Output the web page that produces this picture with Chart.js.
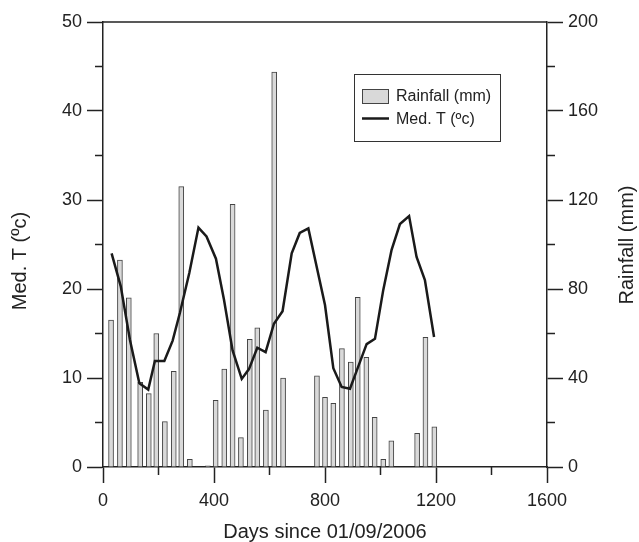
<!DOCTYPE html>
<html>
<head>
<meta charset="utf-8">
<script src="https://cdn.jsdelivr.net/npm/chart.js@4/dist/chart.umd.min.js"></script>
<style>
  html, body { margin: 0; padding: 0; background: #ffffff; }
  #wrap { width: 639px; height: 542px; }
</style>
</head>
<body>
<div id="wrap"><canvas id="c" width="639" height="542"></canvas></div>
<script>
// ---- Data ----
const rainDays = [29, 61, 93, 134, 165, 192, 223, 255, 282, 313, 378, 406, 437, 467, 497, 529, 556, 587, 617, 649,
                  771, 800, 830, 861, 893, 918, 949, 979, 1010, 1039, 1132, 1162, 1194];
const rainValues = [66, 93, 76, 38, 33, 60, 20.4, 43, 126, 3.5, 0.5, 30, 44, 118, 13.2, 57.4, 62.5, 25.6, 177.5, 40,
                    41, 31.3, 28.6, 53.2, 47.2, 76.3, 49.3, 22.3, 3.5, 11.8, 15.1, 58.3, 18.1];
const tempDays = [31, 64, 97, 131, 163, 187, 221, 251, 277, 311, 344, 373, 407, 436, 467, 500, 526, 556, 586, 616,
                  647, 680, 709, 740, 770, 800, 830, 860, 890, 920, 950, 980, 1010, 1040, 1070, 1103, 1130, 1160, 1193];
const tempValues = [24.0, 20.3, 14.3, 9.4, 8.7, 11.9, 11.9, 14.2, 17.3, 21.8, 26.9, 25.9, 23.4, 18.8, 13.1, 9.9, 11.0, 13.4, 12.9, 16.1,
                    17.5, 24.0, 26.3, 26.8, 22.5, 18.2, 11.1, 9.0, 8.8, 11.3, 13.8, 14.4, 19.9, 24.4, 27.3, 28.2, 23.6, 21.0, 14.6];
const xTicksMajor = [0, 400, 800, 1200, 1600];
const xTicksMinor = [200, 600, 1000, 1400];
const tempTicksMinor = [5, 15, 25, 35, 45];
const rainTicksMinor = [20, 60, 100, 140, 180];
const seriesLabels = ['Rainfall (mm)', 'Med. T (\u00bac)'];
const axisTitles = { x: 'Days since 01/09/2006', left: 'Med. T (\u00bac)', right: 'Rainfall (mm)' };

const FONT = '"Liberation Sans", Arial, Helvetica, sans-serif';
const INK = '#222222';

const rainData = rainDays.map((d, i) => ({ x: d, y: rainValues[i] }));
const tempData = tempDays.map((d, i) => ({ x: d, y: tempValues[i] }));

const decorPlugin = {
  id: 'decor',
  afterDraw(chart) {
    const ctx = chart.ctx;
    const xs = chart.scales.x, yl = chart.scales.y, yr = chart.scales.y1;
    const ca = chart.chartArea;
    ctx.save();
    ctx.strokeStyle = INK;
    ctx.lineWidth = 1.5;
    // top frame line
    ctx.beginPath();
    ctx.moveTo(ca.left, ca.top);
    ctx.lineTo(ca.right, ca.top);
    ctx.stroke();
    // minor ticks
    ctx.beginPath();
    xTicksMinor.forEach(v => { const p = xs.getPixelForValue(v); ctx.moveTo(p, ca.bottom); ctx.lineTo(p, ca.bottom + 8); });
    tempTicksMinor.forEach(v => { const p = yl.getPixelForValue(v); ctx.moveTo(ca.left, p); ctx.lineTo(ca.left - 8, p); });
    rainTicksMinor.forEach(v => { const p = yr.getPixelForValue(v); ctx.moveTo(ca.right, p); ctx.lineTo(ca.right + 8, p); });
    ctx.stroke();

    // axis titles
    ctx.fillStyle = INK;
    ctx.font = '20px ' + FONT;
    ctx.textAlign = 'center';
    ctx.textBaseline = 'middle';
    ctx.fillText(axisTitles.x, (ca.left + ca.right) / 2, 532);
    ctx.save();
    ctx.translate(20, 261);
    ctx.rotate(-Math.PI / 2);
    ctx.fillText(axisTitles.left, 0, 0);
    ctx.restore();
    ctx.save();
    ctx.translate(627, 245);
    ctx.rotate(-Math.PI / 2);
    ctx.fillText(axisTitles.right, 0, 0);
    ctx.restore();

    // legend box
    const rainDs = chart.data.datasets[1], tempDs = chart.data.datasets[0];
    ctx.lineWidth = 1;
    ctx.strokeStyle = '#333333';
    ctx.strokeRect(354.5, 74.5, 146, 67);
    ctx.fillStyle = rainDs.backgroundColor;
    ctx.fillRect(362, 89, 27, 15);
    ctx.strokeStyle = rainDs.borderColor;
    ctx.lineWidth = 1;
    ctx.strokeRect(362.5, 89.5, 26, 14);
    ctx.strokeStyle = tempDs.borderColor;
    ctx.lineWidth = 2.5;
    ctx.beginPath();
    ctx.moveTo(362, 118.5);
    ctx.lineTo(389, 118.5);
    ctx.stroke();
    ctx.fillStyle = INK;
    ctx.font = '16px ' + FONT;
    ctx.textAlign = 'left';
    ctx.textBaseline = 'middle';
    ctx.fillText(rainDs.label, 396, 96.5);
    ctx.fillText(tempDs.label, 396, 120);
    ctx.restore();
  }
};

const tickFont = { family: FONT, size: 18 };
const gridOpts = { display: true, offset: false, drawOnChartArea: false, drawTicks: true, tickLength: 16, tickWidth: 1.5, tickColor: INK, color: INK };
const borderOpts = { display: true, color: INK, width: 1.5 };
const plainLabel = v => String(v);

new Chart(document.getElementById('c'), {
  type: 'bar',
  data: {
    datasets: [
      {
        type: 'line',
        label: seriesLabels[1],
        data: tempData,
        yAxisID: 'y',
        xAxisID: 'x',
        borderColor: '#1a1a1a',
        borderWidth: 2.5,
        pointRadius: 0,
        tension: 0,
        fill: false,
        order: 0
      },
      {
        type: 'bar',
        label: seriesLabels[0],
        data: rainData,
        yAxisID: 'y1',
        xAxisID: 'x',
        backgroundColor: '#d9d9d9',
        borderColor: '#444444',
        borderWidth: 1,
        barThickness: 5,
        borderSkipped: 'bottom',
        order: 1
      }
    ]
  },
  options: {
    responsive: false,
    animation: false,
    devicePixelRatio: 1,
    layout: { padding: { top: 22, left: 0, right: 0, bottom: 0 } },
    plugins: { legend: { display: false }, tooltip: { enabled: false }, title: { display: false } },
    scales: {
      x: {
        type: 'linear',
        position: 'bottom',
        min: 0, max: 1600,
        offset: false,
        afterBuildTicks(scale) { scale.ticks = xTicksMajor.map(v => ({ value: v })); },
        ticks: { font: tickFont, color: INK, padding: 7, maxRotation: 0, autoSkip: false, callback: plainLabel },
        grid: gridOpts,
        border: borderOpts,
        afterFit(scale) { scale.height = 75; }
      },
      y: {
        type: 'linear',
        position: 'left',
        min: 0, max: 50,
        ticks: { stepSize: 10, font: tickFont, color: INK, padding: 5, callback: plainLabel },
        grid: gridOpts,
        border: borderOpts,
        afterFit(scale) { scale.width = 103; }
      },
      y1: {
        type: 'linear',
        position: 'right',
        min: 0, max: 200,
        ticks: { stepSize: 40, font: tickFont, color: INK, padding: 5, callback: plainLabel },
        grid: gridOpts,
        border: borderOpts,
        afterFit(scale) { scale.width = 92; }
      }
    }
  },
  plugins: [decorPlugin]
});
</script>
</body>
</html>
